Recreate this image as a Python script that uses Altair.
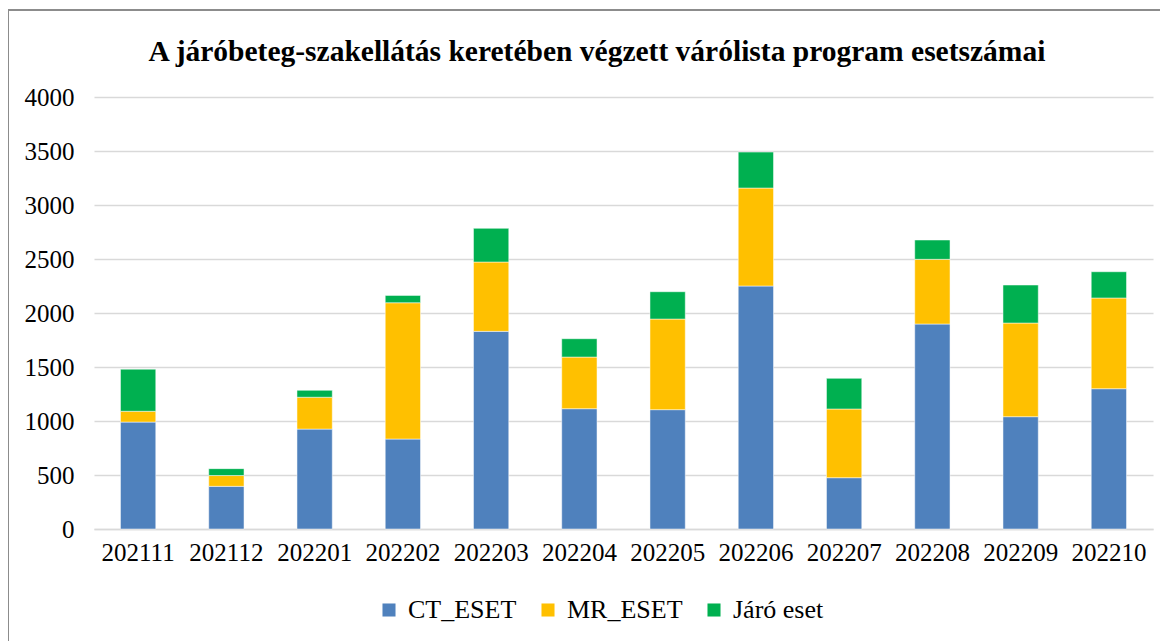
import altair as alt
import pandas as pd

months = ["202111", "202112", "202201", "202202", "202203", "202204",
          "202205", "202206", "202207", "202208", "202209", "202210"]
ct_eset = [990, 395, 925, 833, 1830, 1114, 1105, 2250, 475, 1898, 1040, 1299]
mr_eset = [100, 100, 295, 1262, 642, 478, 839, 907, 636, 599, 867, 840]
jaro_eset = [390, 64, 64, 68, 312, 170, 253, 333, 284, 179, 352, 243]

series = ["CT_ESET", "MR_ESET", "Járó eset"]
colors = ["#4F81BD", "#FFC000", "#00B050"]
title_text = "A járóbeteg-szakellátás keretében végzett várólista program esetszámai"

rows = []
for i, m in enumerate(months):
    for k, (name, vals) in enumerate(zip(series, [ct_eset, mr_eset, jaro_eset])):
        rows.append({"honap": m, "sorozat": name, "ertek": vals[i], "rend": k})
df = pd.DataFrame(rows)

FONT = "Liberation Serif"
W, H = 1059, 432

bars = alt.Chart(df).mark_bar(stroke="white", strokeWidth=0.5).encode(
    x=alt.X("honap:N", sort=months,
            scale=alt.Scale(paddingInner=0.6, paddingOuter=0.3),
            axis=alt.Axis(title=None, labelAngle=0, labelFontSize=25, labelFont=FONT,
                          labelColor="black", labelPadding=11, ticks=False,
                          domainColor="#d9d9d9", domainWidth=1.5, grid=False)),
    y=alt.Y("ertek:Q", stack="zero",
            scale=alt.Scale(domain=[0, 4000], nice=False),
            axis=alt.Axis(title=None, values=list(range(0, 4001, 500)), format="d",
                          labelFontSize=25, labelFont=FONT, labelColor="black",
                          labelPadding=20, ticks=False, domain=False,
                          gridColor="#d9d9d9", gridWidth=1.5)),
    color=alt.Color("sorozat:N",
                    scale=alt.Scale(domain=series, range=colors),
                    legend=alt.Legend(title=None, orient="none", direction="horizontal",
                                      legendX=282, legendY=500,
                                      symbolType="square", symbolSize=170,
                                      symbolStrokeWidth=0, labelFont=FONT,
                                      labelFontSize=26, labelColor="black",
                                      columnPadding=18, symbolOffset=0,
                                      labelOffset=6)),
    order=alt.Order("rend:Q", sort="ascending"),
)

frame_df = pd.DataFrame({"d": [0]})
top_line = alt.Chart(frame_df).mark_rule(color="#8c8c8c", strokeWidth=2).encode(
    x=alt.value(-86), x2=alt.value(1080), y=alt.value(-87)
)
left_line = alt.Chart(frame_df).mark_rule(color="#8c8c8c", strokeWidth=2).encode(
    x=alt.value(-86), y=alt.value(-87), y2=alt.value(560)
)
title = alt.Chart(frame_df).mark_text(
    text=title_text, font=FONT, fontSize=29.5, fontWeight="bold", color="black",
    align="center", baseline="alphabetic"
).encode(x=alt.value(503), y=alt.value(-36))

chart = alt.layer(bars, top_line, left_line, title).properties(
    width=W, height=H,
    autosize=alt.AutoSizeParams(type="none"),
    padding={"left": 86, "top": 89, "right": 7, "bottom": 112},
).configure_view(stroke=None)

chart.save("out.html", embed_options={"renderer": "svg", "actions": False})
